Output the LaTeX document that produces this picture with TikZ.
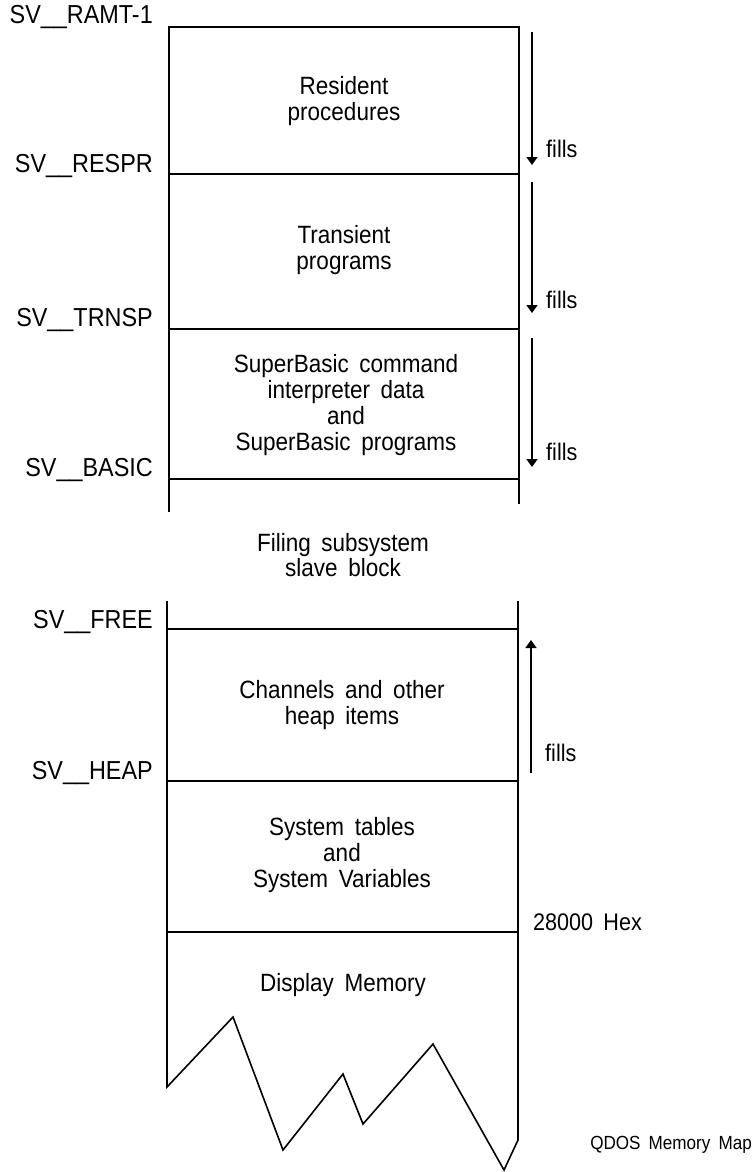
\documentclass[tikz,border=0pt]{standalone}
\usepackage{fontspec}
\setmainfont{Liberation Sans}[FakeStretch=0.9,WordSpace={1.7,1,1}]
\usetikzlibrary{arrows.meta}
\begin{document}
\begin{tikzpicture}[x=1pt,y=-1pt,
  wall/.style={line width=1.6pt,line join=miter},
  fillarrow/.style={line width=1.6pt,-{Triangle[width=11pt,length=8pt]}},
  addr/.style={anchor=east,inner sep=0pt,font=\fontsize{26}{26}\selectfont},
  area/.style={align=center,inner sep=0pt,font=\fontsize{25}{25.8}\selectfont},
  note/.style={anchor=west,inner sep=0pt,font=\fontsize{24}{26}\selectfont}]
\useasboundingbox (0,0) rectangle (755,1172);
% upper block
\coordinate (tl) at (169,27);
\coordinate (tr) at (519,27);
\coordinate (bl) at (169,512);
\coordinate (br) at (519,504);
\draw[wall] (bl) -- (tl) -- (tr) -- (br);
\coordinate (r1l) at (169,174); \coordinate (r1r) at (519,174);
\coordinate (r2l) at (169,329); \coordinate (r2r) at (519,329);
\coordinate (r3l) at (169,479); \coordinate (r3r) at (519,479);
\draw[wall] (r1l) -- (r1r);
\draw[wall] (r2l) -- (r2r);
\draw[wall] (r3l) -- (r3r);
\node[addr] (ramt) at (153,17) {SV\_\_RAMT-1};
\node[addr] (respr) at (153,166) {SV\_\_RESPR};
\node[addr] (trnsp) at (153,320) {SV\_\_TRNSP};
\node[addr] (basic) at (153,470) {SV\_\_BASIC};
\node[area] (resproc) at (344,101) {Resident\\procedures};
\node[area] (trans) at (344,250) {Transient\\programs};
\node[area] (sbasic) at (346,405) {SuperBasic command\\interpreter data\\and\\SuperBasic programs};
\coordinate (a1s) at (532,32); \coordinate (a1e) at (532,165);
\coordinate (a2s) at (532,182); \coordinate (a2e) at (532,313);
\coordinate (a3s) at (532,338); \coordinate (a3e) at (532,467);
\draw[fillarrow] (a1s) -- (a1e);
\draw[fillarrow] (a2s) -- (a2e);
\draw[fillarrow] (a3s) -- (a3e);
\node[note] (f1) at (546,149) {fills};
\node[note] (f2) at (546,300) {fills};
\node[note] (f3) at (546,452) {fills};
% gap
\node[area] (filing) at (343,555) {Filing subsystem\\slave block};
% lower block
\coordinate (ltop) at (167,601);
\coordinate (rtop) at (518,601);
\coordinate (z0) at (167,1087);
\coordinate (z1) at (233,1017);
\coordinate (z2) at (283,1150);
\coordinate (z3) at (343,1074);
\coordinate (z4) at (363,1124);
\coordinate (z5) at (433,1044);
\coordinate (z6) at (504,1170);
\coordinate (z7) at (518,1140);
\draw[wall] (ltop) -- (z0) -- (z1) -- (z2) -- (z3) -- (z4) -- (z5) -- (z6) -- (z7) -- (rtop);
\coordinate (freel) at (167,629); \coordinate (freer) at (518,629);
\coordinate (heapl) at (167,781); \coordinate (heapr) at (518,781);
\coordinate (hexl) at (167,932); \coordinate (hexr) at (518,932);
\draw[wall] (freel) -- (freer);
\draw[wall] (heapl) -- (heapr);
\draw[wall] (hexl) -- (hexr);
\node[addr] (free) at (153,622) {SV\_\_FREE};
\node[addr] (heap) at (153,773) {SV\_\_HEAP};
\node[area] (chan) at (342,705) {Channels and other\\heap items};
\node[area] (systab) at (342,855) {System tables\\and\\System Variables};
\node[area] (disp) at (343,985) {Display Memory};
\coordinate (a4s) at (531,773); \coordinate (a4e) at (531,640);
\draw[fillarrow] (a4s) -- (a4e);
\node[note] (f4) at (545,753) {fills};
\node[note] (hex) at (533,922) {28000 Hex};
\node[anchor=east,inner sep=0pt,font=\fontsize{19}{21}\selectfont] (title) at (752,1145) {QDOS Memory Map};
\end{tikzpicture}
\end{document}
